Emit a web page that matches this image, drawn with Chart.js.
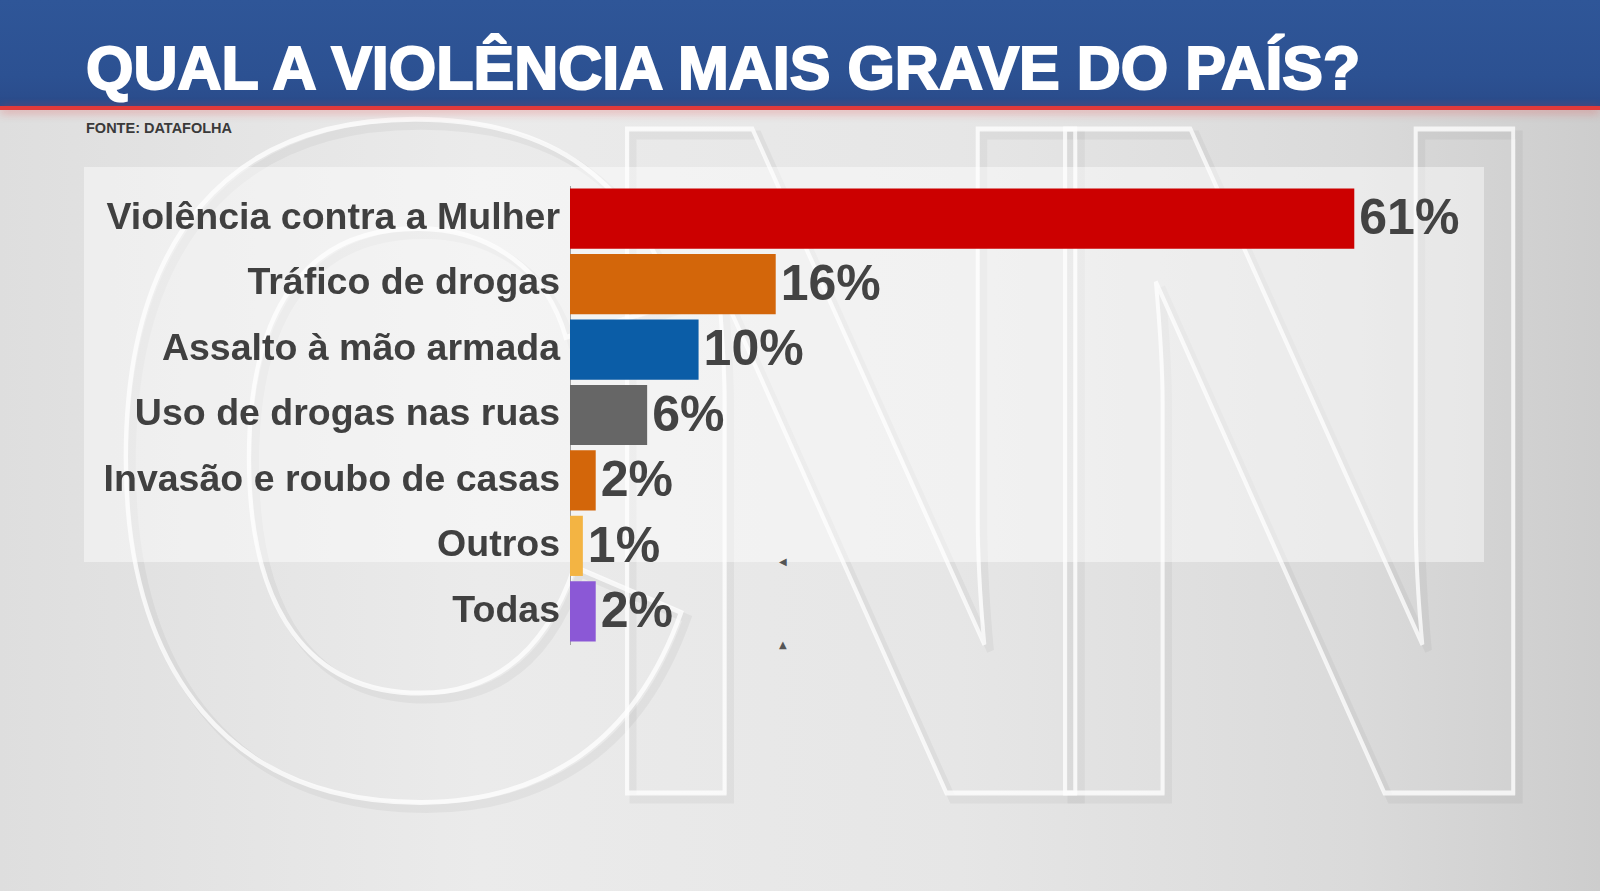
<!DOCTYPE html>
<html>
<head>
<meta charset="utf-8">
<script src="https://cdn.jsdelivr.net/npm/chart.js@4"></script>
<style>
  html, body { margin: 0; padding: 0; }
  body { width: 1600px; height: 891px; overflow: hidden; position: relative;
    font-family: "Liberation Sans", Arial, sans-serif;
    background: linear-gradient(90deg, #dedede 0%, #ebebeb 30%, #e6e6e6 60%, #dadada 85%, #cdcdcd 100%); }
  .wm { position: absolute; top: -24px; font-size: 965px; font-weight: bold; line-height: 965px;
    transform: scaleX(0.79); transform-origin: 0 0; color: transparent; white-space: nowrap;
    -webkit-text-stroke: 5px rgba(255,255,255,0.75); }
  .wm.c { transform: scaleX(0.88); }
  .wm.sh { top: -18px; -webkit-text-stroke: 9px rgba(0,0,0,0.04); }
  .header { position: absolute; left: 0; top: 0; width: 1600px; height: 108px;
    background: linear-gradient(180deg, #2f5698 0%, #2c5192 70%, #2a4b8a 100%); }
  .redline { position: absolute; left: 0; top: 106px; width: 1600px; height: 4px; background: #e23a3a;
    box-shadow: 0 2px 10px rgba(230,60,60,0.55); }
  .title { position: absolute; left: 86px; top: 38px; font-size: 61px; line-height: 61px; font-weight: bold;
    color: #fff; -webkit-text-stroke: 2px #fff; white-space: nowrap; }
  .fonte { position: absolute; left: 86px; top: 121px; font-size: 14.5px; line-height: 14.5px; font-weight: bold;
    color: #3a3a3a; white-space: nowrap; }
  .panel { position: absolute; left: 84px; top: 167px; width: 1400px; height: 395px; background: rgba(255,255,255,0.45); }
  .mark { position: absolute; font-size: 10px; line-height: 10px; color: #555; font-family: "DejaVu Sans", sans-serif; }
  canvas { position: absolute; left: 0; top: 0; }
</style>
</head>
<body>
<div class="wm c sh" style="left:97px">C</div>
<div class="wm sh" style="left:582px">N</div>
<div class="wm sh" style="left:1020px">N</div>
<div class="wm c" style="left:91px">C</div>
<div class="wm" style="left:576px">N</div>
<div class="wm" style="left:1014px">N</div>
<div class="header"></div>
<div class="redline"></div>
<div class="title">QUAL A VIOLÊNCIA MAIS GRAVE DO PAÍS?</div>
<div class="fonte">FONTE: DATAFOLHA</div>
<div class="panel"></div>
<div class="mark" style="left:779px;top:557px;">◀</div>
<div class="mark" style="left:779px;top:640px;">▲</div>
<canvas id="chart" width="1600" height="891"></canvas>
<script>
// Datafolha: most serious violence in the country (%)
const categories = [
    "Violência contra a Mulher",
    "Tráfico de drogas",
    "Assalto à mão armada",
    "Uso de drogas nas ruas",
    "Invasão e roubo de casas",
    "Outros",
    "Todas"
];
const values = [61, 16, 10, 6, 2, 1, 2];
const barColors = ["#cc0000", "#d3660a", "#0b5da7", "#666666", "#d3660a", "#f3b443", "#8b58d6"];

// draws "61%" etc. at the end of each bar
const valueLabels = {
    id: "valueLabels",
    afterDatasetsDraw(chart) {
        const ctx = chart.ctx;
        const meta = chart.getDatasetMeta(0);
        ctx.save();
        ctx.font = "bold 50px 'Liberation Sans', Arial, sans-serif";
        ctx.fillStyle = "#434343";
        ctx.textAlign = "left";
        ctx.textBaseline = "middle";
        meta.data.forEach((bar, i) => {
            ctx.fillText(values[i] + "%", bar.x + 5, bar.y + 2);
        });
        ctx.restore();
    }
};

new Chart(document.getElementById("chart"), {
    type: "bar",
    data: {
        labels: categories,
        datasets: [{
            data: values,
            backgroundColor: barColors,
            borderWidth: 0,
            barPercentage: 0.92,
            categoryPercentage: 1
        }]
    },
    options: {
        indexAxis: "y",
        responsive: false,
        animation: false,
        devicePixelRatio: 1,
        layout: { padding: { top: 186, bottom: 247, left: 0, right: 130 } },
        plugins: {
            legend: { display: false },
            tooltip: { enabled: false }
        },
        scales: {
            x: { display: false, min: 0, max: 70 },
            y: {
                afterFit(scale) { scale.width = 570; },
                grid: { display: false, drawTicks: false },
                border: { display: true, color: "#a0a0a0", width: 1 },
                ticks: {
                    padding: 10,
                    color: "#404040",
                    font: { family: "'Liberation Sans', Arial, sans-serif", size: 37.5, weight: "bold" }
                }
            }
        }
    },
    plugins: [valueLabels]
});
</script>
</body>
</html>
